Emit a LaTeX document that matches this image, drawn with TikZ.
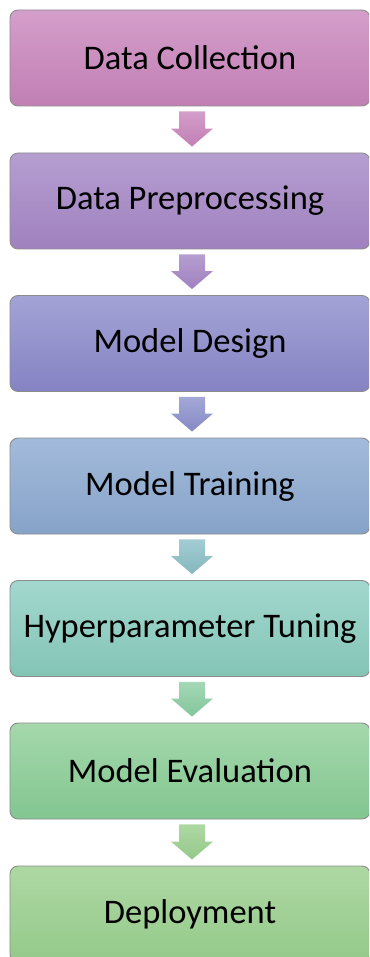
\documentclass[tikz,border=0pt]{standalone}
\usepackage{fontspec}
\setmainfont{Carlito}
\usetikzlibrary{calc}
\definecolor{c1t}{RGB}{212,158,202}\definecolor{c1b}{RGB}{193,127,180}
\definecolor{c2t}{RGB}{181,158,208}\definecolor{c2b}{RGB}{160,129,191}
\definecolor{c3t}{RGB}{163,163,214}\definecolor{c3b}{RGB}{133,131,195}
\definecolor{c4t}{RGB}{163,187,219}\definecolor{c4b}{RGB}{134,163,200}
\definecolor{c5t}{RGB}{163,216,207}\definecolor{c5b}{RGB}{131,196,181}
\definecolor{c6t}{RGB}{165,216,172}\definecolor{c6b}{RGB}{130,198,144}
\definecolor{c7t}{RGB}{174,216,163}\definecolor{c7b}{RGB}{148,201,138}
% block arrow from the bottom of one stage to the top of the next
\newcommand\blockarrow[4]{%
  \path[top color=#3, bottom color=#4]
    ($(#1)+(-13,0)$) -- ($(#1)+(13,0)$) -- ($(#2)+(13,-18)$) -- ($(#2)+(21,-18)$)
    -- (#2) -- ($(#2)+(-21,-18)$) -- ($(#2)+(-13,-18)$) -- cycle;}
\begin{document}
\begin{tikzpicture}[x=1pt,y=-1pt,
  stage/.style={rectangle, rounded corners=8pt, minimum width=360pt, minimum height=96pt,
    draw=black!45, line width=0.9pt, font=\fontsize{34.5}{40}\selectfont, text=black, inner sep=0pt}]
\useasboundingbox (0,0) rectangle (369,957);
\begin{scope}
\clip (0,0) rectangle (369,957);
\node[stage, top color=c1t, bottom color=c1b] (s1) at (190,58) {Data Collection};
\node[stage, top color=c2t, bottom color=c2b] (s2) at (190,201) {Data Preprocessing};
\node[stage, top color=c3t, bottom color=c3b] (s3) at (190,343.5) {Model Design};
\node[stage, top color=c4t, bottom color=c4b] (s4) at (190,486) {Model Training};
\node[stage, top color=c5t, bottom color=c5b] (s5) at (190,628.5) {Hyperparameter Tuning};
\node[stage, top color=c6t, bottom color=c6b] (s6) at (190,771) {Model Evaluation};
\node[stage, top color=c7t, bottom color=c7b] (s7) at (190,914) {Deployment};
\end{scope}
\foreach \a/\b/\t/\u in {s1/s2/c1t/c1b, s2/s3/c2t/c2b, s3/s4/c3t!80!c4t/c3b!80!c4b,
                         s4/s5/c4t!40!c5t/c4b!40!c5b, s5/s6/c5t!30!c6t/c5b!30!c6b, s6/s7/c7t/c7b}{
  \coordinate (from) at ($(\a.south)+(2,5)$);
  \coordinate (to) at ($(\b.north)+(2,-6)$);
  \blockarrow{from}{to}{\t}{\u}
}
\end{tikzpicture}
\end{document}
